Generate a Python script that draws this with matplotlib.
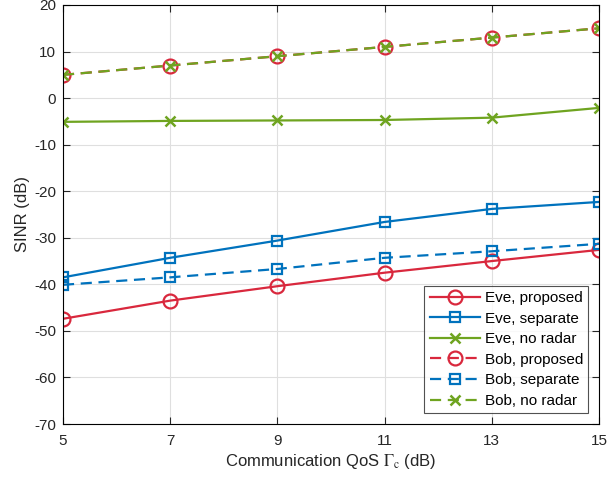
import numpy as np
import matplotlib
matplotlib.use("Agg")
from matplotlib import pyplot as plt

plt.rcParams['font.family'] = ['Liberation Sans', 'DejaVu Sans']
plt.rcParams['mathtext.fontset'] = 'stix'
plt.rcParams['axes.unicode_minus'] = False

# data
qos = [5, 7, 9, 11, 13, 15]
eve_proposed = [-47.4, -43.5, -40.4, -37.5, -35.0, -32.6]
eve_separate = [-38.5, -34.3, -30.6, -26.6, -23.8, -22.3]
eve_noradar = [-5.1, -4.9, -4.8, -4.7, -4.2, -2.1]
bob_proposed = [5, 7, 9, 11, 13, 15]
bob_separate = [-40.1, -38.5, -36.7, -34.3, -32.9, -31.3]
bob_noradar = [5, 7, 9, 11, 13, 15]

red = '#D9283D'
blue = '#0072BD'
green = '#6FA420'
txt = '#262626'

fig = plt.figure(figsize=(6.08, 4.84), dpi=100)
ax = fig.add_axes([63 / 608, 1 - 424 / 484, (599 - 63) / 608, (424 - 5) / 484])

lw = 1.6
ax.plot(qos, eve_proposed, '-', color=red, lw=lw, marker='o', ms=10, mfc='none', mew=1.6, label='Eve, proposed')
ax.plot(qos, eve_separate, '-', color=blue, lw=lw, marker='s', ms=7.5, mfc='none', mew=1.6, label='Eve, separate')
ax.plot(qos, eve_noradar, '-', color=green, lw=lw, marker='x', ms=7.5, mew=1.8, label='Eve, no radar')
ax.plot(qos, bob_proposed, '--', color=red, lw=lw, marker='o', ms=10, mfc='none', mew=1.6, label='Bob, proposed', dashes=(5, 3))
ax.plot(qos, bob_separate, '--', color=blue, lw=lw, marker='s', ms=7.5, mfc='none', mew=1.6, label='Bob, separate', dashes=(5, 3))
ax.plot(qos, bob_noradar, '--', color=green, lw=lw, marker='x', ms=7.5, mew=1.8, label='Bob, no radar', dashes=(5, 3))

ax.set_xlim(5, 15)
ax.set_ylim(-70, 20)
ax.set_xticks(qos)
ax.set_yticks(np.arange(-70, 21, 10))
ax.grid(True, color='#DFDFDF', lw=0.8)
ax.set_axisbelow(True)
ax.tick_params(direction='in', length=5, width=0.8, colors=txt, labelsize=11, top=True, right=True)
ax.tick_params(axis='x', pad=7)
ax.tick_params(axis='y', pad=5)
for s in ax.spines.values():
    s.set_color('black')
    s.set_linewidth(0.8)

ax.set_xlabel(r'Communication QoS $\Gamma_{\mathrm{c}}$ (dB)', fontsize=12, color=txt, labelpad=3)
ax.set_ylabel('SINR (dB)', fontsize=12, color=txt, labelpad=3)

leg = ax.legend(loc='lower right', fontsize=11, frameon=True, fancybox=False,
                edgecolor='#262626', handlelength=3.3, borderaxespad=0.7,
                labelspacing=0.43, handletextpad=0.3, borderpad=0.35)
leg.get_frame().set_linewidth(0.8)

fig.savefig('out.png', dpi=100)
